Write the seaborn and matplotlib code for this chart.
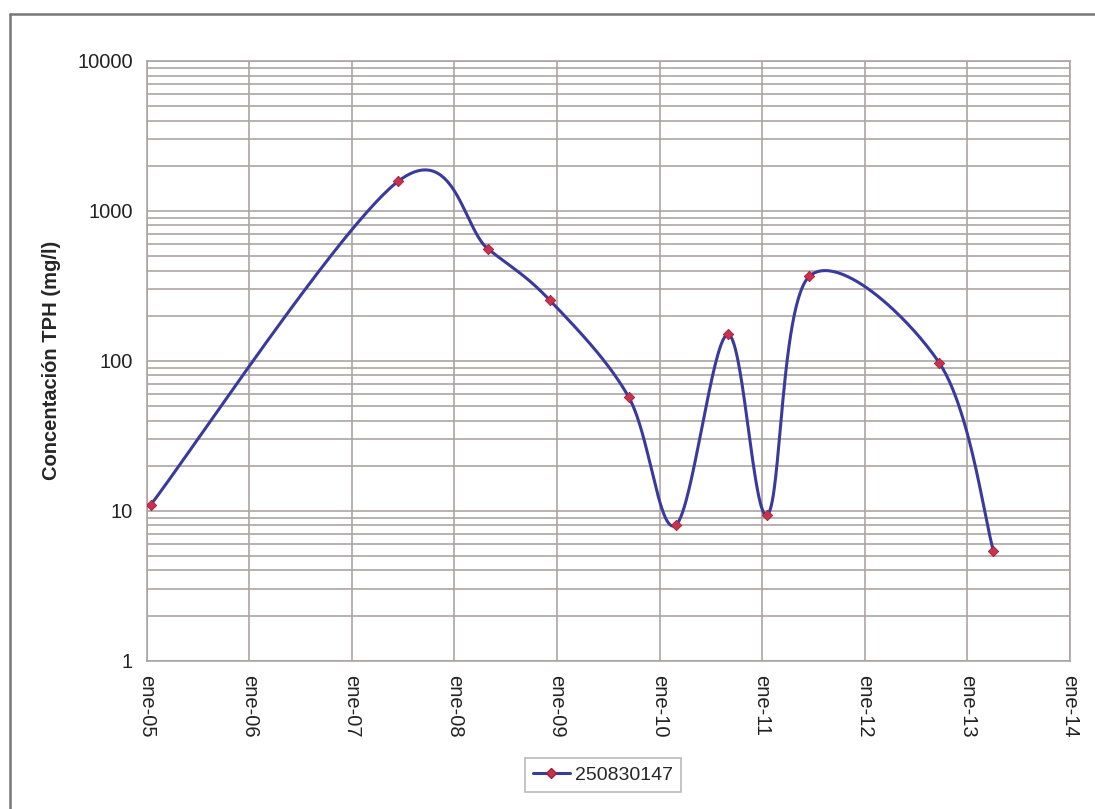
import numpy as np
import pandas as pd
import matplotlib
matplotlib.use("Agg")
import matplotlib.pyplot as plt
import matplotlib.dates as mdates
from matplotlib.lines import Line2D
import seaborn as sns

# sample dates and TPH concentration (mg/l)
fechas = ["2005-01-16", "2007-06-16", "2008-05-01", "2008-12-06", "2009-09-14",
          "2010-02-27", "2010-09-01", "2011-01-20", "2011-06-19", "2012-09-23",
          "2013-04-04"]
tph = [11.0, 1580, 556, 254, 57, 8.0, 150, 9.4, 367, 97, 5.4]
serie = "250830147"

tick_fechas = ["2005-01-01", "2006-01-01", "2007-01-01", "2008-01-01", "2009-01-01",
               "2010-01-01", "2011-01-01", "2012-01-01", "2013-01-01", "2014-01-01"]
tick_labels = ["ene-05", "ene-06", "ene-07", "ene-08", "ene-09",
               "ene-10", "ene-11", "ene-12", "ene-13", "ene-14"]

df = pd.DataFrame({"fecha": pd.to_datetime(fechas), "tph": tph})

# Excel style smoothed line: Bezier segments with Catmull-Rom control points,
# worked out in (date, log10 value) space which is affine to the screen
px = mdates.date2num(df["fecha"])
py = np.log10(df["tph"].to_numpy())
P = np.column_stack([px, py])
Pext = np.vstack([P[0], P, P[-1]])
curve = []
t = np.linspace(0, 1, 60)[:, None]
for i in range(len(P) - 1):
    p0, p1, p2, p3 = Pext[i], Pext[i + 1], Pext[i + 2], Pext[i + 3]
    c1 = p1 + (p2 - p0) / 6
    c2 = p2 - (p3 - p1) / 6
    seg = ((1 - t) ** 3) * p1 + 3 * ((1 - t) ** 2) * t * c1 + 3 * (1 - t) * t ** 2 * c2 + t ** 3 * p2
    curve.append(seg if i == 0 else seg[1:])
curve = np.vstack(curve)
suave = pd.DataFrame({"fecha": mdates.num2date(curve[:, 0]), "tph": 10 ** curve[:, 1]})

sns.set_theme(style="white")
plt.rcParams["font.family"] = ["Liberation Sans", "DejaVu Sans"]

linea = "#3a3a9e"
punto = "#c8324c"
gris = "#aca4a4"

fig = plt.figure(figsize=(10.95, 8.09), dpi=100)
ax = fig.add_axes([0.134, 0.1833, 0.843, 0.7413])

sns.lineplot(data=suave, x="fecha", y="tph", ax=ax, color=linea, lw=2.2, sort=False,
             estimator=None, legend=False)
sns.scatterplot(data=df, x="fecha", y="tph", ax=ax, marker="D", s=28, color=punto,
                edgecolor="#a02040", linewidth=0.6, zorder=5, legend=False)

ax.set_yscale("log")
ax.set_ylim(1, 10000)
ax.set_xlim(pd.Timestamp(tick_fechas[0]), pd.Timestamp(tick_fechas[-1]))
ax.set_yticks([1, 10, 100, 1000, 10000])
ax.set_yticklabels(["1", "10", "100", "1000", "10000"])
ax.set_xticks(pd.to_datetime(tick_fechas))
ax.set_xticklabels(tick_labels, rotation=270)
ax.tick_params(axis="both", labelsize=14.5, colors="#222222", length=7, width=1.2,
               direction="out", pad=3)
ax.tick_params(axis="both", which="major", color=gris)
ax.tick_params(axis="y", which="minor", length=0)

ax.grid(True, which="major", axis="both", color=gris, lw=1.2)
ax.grid(True, which="minor", axis="y", color=gris, lw=1.2)
ax.set_axisbelow(True)
for s in ax.spines.values():
    s.set_color(gris)
    s.set_linewidth(1.2)

ax.set_xlabel("")
ax.set_ylabel("Concentación TPH (mg/l)", fontsize=14.5, fontweight="bold", labelpad=12)

handle = Line2D([], [], color=linea, lw=2.2, marker="D", markersize=5,
                markerfacecolor=punto, markeredgecolor="#a02040")
leg = fig.legend([handle], [serie], loc="center", bbox_to_anchor=(603 / 1095, 1 - 775 / 809),
                 fontsize=14, frameon=True, fancybox=False, handlelength=1.9,
                 borderpad=0.4, handletextpad=0.3)
leg.get_frame().set_edgecolor("#a8a8a8")
leg.get_frame().set_linewidth(1.2)

# outer border of the original chart object
fig.add_artist(Line2D([10 / 1095, 1], [1 - 14 / 809, 1 - 14 / 809], color="#777777", lw=1.8))
fig.add_artist(Line2D([10 / 1095, 10 / 1095], [0, 1 - 14 / 809], color="#777777", lw=1.8))

fig.savefig("out.png", dpi=100)
